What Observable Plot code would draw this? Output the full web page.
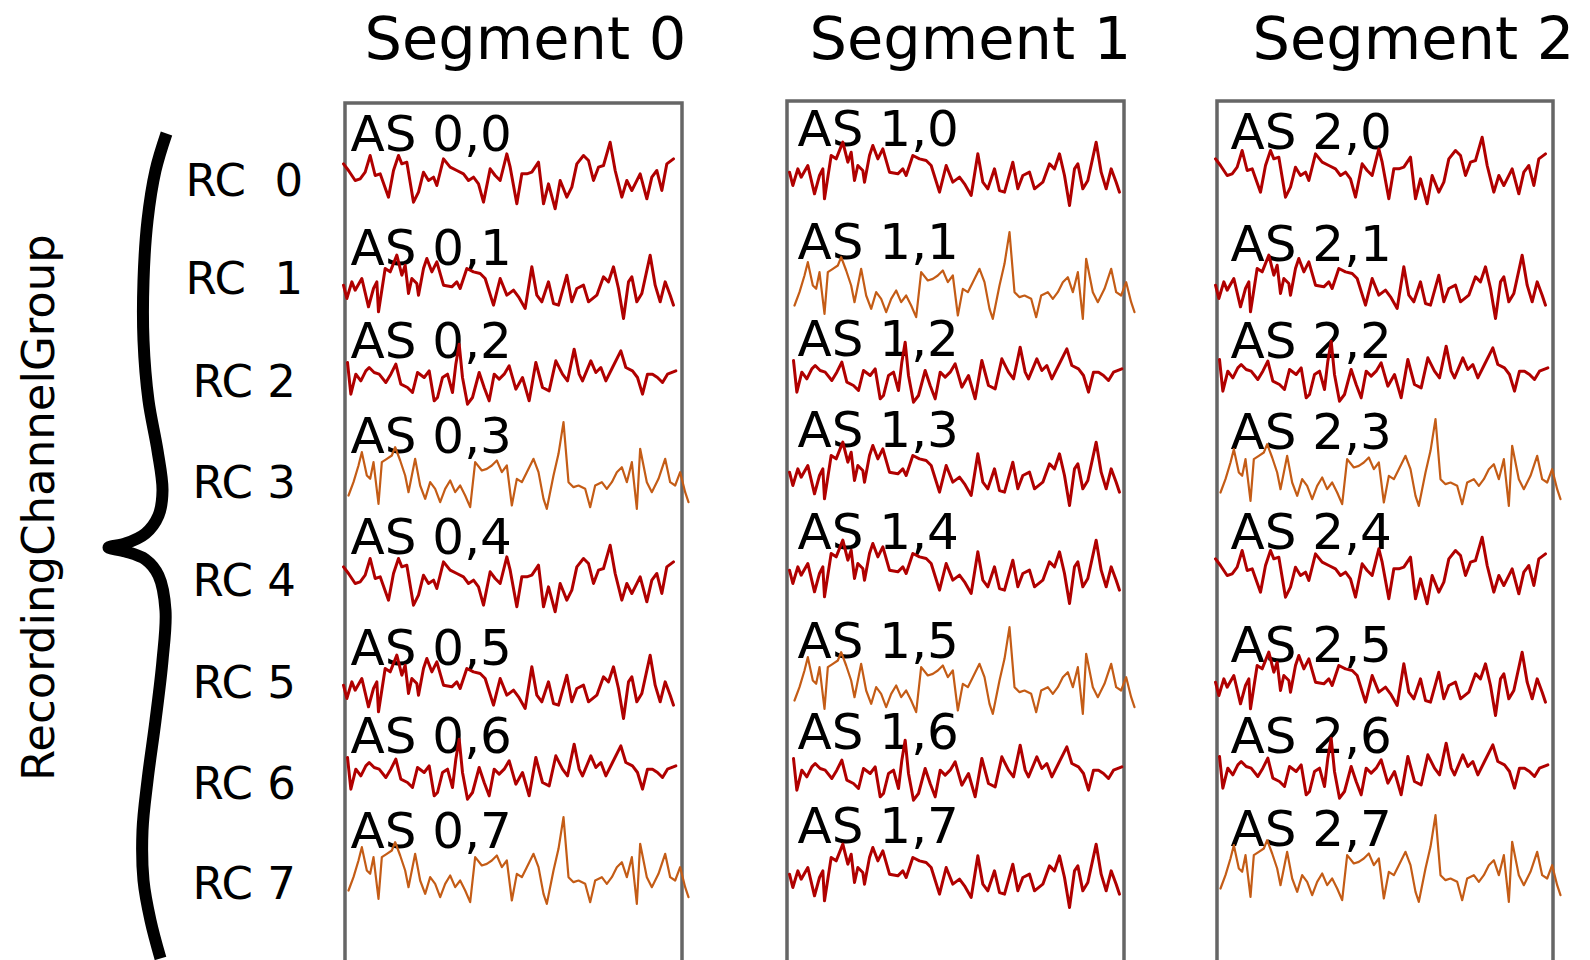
<!DOCTYPE html>
<html>
<head>
<meta charset="utf-8">
<script src="https://cdn.jsdelivr.net/npm/d3@7"></script>
<script src="https://cdn.jsdelivr.net/npm/@observablehq/plot@0.6"></script>
<style>
  html, body { margin: 0; padding: 0; background: #fff; }
  #chart svg text { white-space: pre; }
</style>
</head>
<body>
<div id="chart"></div>
<script>
// ---------------- data ----------------
const segments = ["Segment 0", "Segment 1", "Segment 2"];
const channels = ["RC  0", "RC  1", "RC 2", "RC 3", "RC 4", "RC 5", "RC 6", "RC 7"];
const groupLabel = "RecordingChannelGroup";

// four distinct analog-signal waveforms (time in samples, amplitude in arbitrary units)
const tA = [0,3,7,10,13,16,19,22,27,30,33,35,38,42,45,48,51,54,56,60,64,68,72,75,78,81,84,88,91,94,98,100,104,107,110,113,117,120,123,127,130,134,137,140,144,147,150,153,156,160,163,167,170,173,175,178,182,185,188,191,194,198];
const vA = [5,3,0,0.5,2.5,7.5,1.5,2,-5,3,7.5,5,5.5,-6.5,-3.5,2.5,0,1,-1.5,6.5,4,3,2,0,1,-1,-6.5,3.5,1.5,0,8,4,-7,2,2,2.5,5.5,-7,-1,-8.5,0,-5,-2,5,7.5,6,0,4,4.5,11.5,3,-5,0,-3,-1,2,-5.5,1,3,-3,5,6.5];

const tB = [0,2,5,7,11,15,18,20,21,25,28,32,35,37,39,41,44,45,48,50,53,56,60,65,68,70,74,78,82,85,90,94,98,102,105,109,113,116,119,123,126,129,134,137,140,144,147,152,156,159,162,165,168,171,173,176,179,184,187,190,193,196,198];
const vB = [1,-3,2,-0.5,3,-5.5,0,2,-7,6,5,10,4,7,-1.5,3,1.5,-2,6,9,5,8,1,0.5,2,0,6,5,4.5,3,-5,3,-2,-0.5,-2.5,-6,6.5,-2,-4,2,-4.5,-5,4,-4,0,1,-4,-2,3.5,2,6.5,0,-9,2,3.5,-4,-1.5,10,1,-4,2,-2,-5];

const tC = [0,2,5,8,11,13,16,19,23,26,29,32,36,39,42,46,49,52,54,57,60,63,65,67,69,72,75,79,82,85,88,91,94,97,101,105,109,113,117,121,125,129,132,136,139,141,146,149,152,155,159,164,167,171,174,177,180,183,186,189,192,197];
const vC = [4.5,-5,1,-1,2,3,1.5,1,-1.5,1,4,-2,-3,-4.5,1.5,0,2,-7,-6,0,1,-4.5,4,10,0,-8,-6,1.5,-3,-7,1,-0.5,1,3.5,-3.5,0,-7,4.5,-3,-4,5,1,-1,8.5,1,-1,5,1.5,3,-1,3,8,3,2,0,-5,1,1,0,-1.5,1,2];

const tD = [0,3,6,8,11,13,15,18,20,23,26,28,31,34,36,40,43,46,49,52,55,58,61,64,67,70,73,76,80,83,86,89,92,95,98,101,104,107,111,114,117,119,123,126,129,132,135,138,142,145,148,152,155,158,161,164,167,170,173,175,179,182,186,190,193,196,199,202,204];
const vD = [-3,1,6,10,3,2,7,-5.5,7,8,9,11.5,7.5,3,-2,8,0,-4,1,-1,-5,-1,1.5,-2,0,-3,-6.5,7,4.5,5,6,7.5,4,6,-6,2,1,4,8,4,-4,-7,3,9.5,19,1,-0.5,0,-1,-6.5,0,1,-1,1,4,5.5,1,7,-7,11,1,-2,2,8,1,0,4,-2,-5];

// which waveform each AnalogSignal (segment, channel) shows
const cellWave = [
  ["A","B","C","D","A","B","C","D"],
  ["B","D","C","B","B","D","C","B"],
  ["A","B","C","D","A","B","C","D"]
];

// ---------------- layout / style ----------------
const W = 1590, H = 960;
const waves = {A: [tA, vA], B: [tB, vB], C: [tC, vC], D: [tD, vD]};
const waveColor = {A: "#b00000", B: "#b00000", C: "#b00000", D: "#c45c16"};
const waveXShift = {A: 0, B: 0, C: 4, D: 5};
const pxPerT = 5 / 3, pxPerV = 10 / 3;
const titleX = [525, 970, 1413], titleY = 58;
const boxX = [[345, 682], [787, 1124], [1217, 1553]], boxTop = [103, 101, 101], boxBottom = 980;
const traceX0 = [343, 789, 1215];
const traceBase = [
  [180, 288, 377, 485, 583, 688, 772, 880],
  [175, 295, 375, 475, 573, 690, 773, 877],
  [175, 288, 374, 482, 575, 685, 771, 878]
];
const labelX = [350, 797, 1230];
const labelBase = [
  [150, 264, 357, 452, 553, 664, 752, 847],
  [145, 258, 355, 446, 548, 657, 748, 842],
  [148, 260, 357, 448, 548, 661, 752, 845]
];
const rcX = [185, 185, 192, 192, 192, 192, 192, 192];
const rcBase = [195, 293, 396, 497, 595, 697, 798, 898];
const groupPos = {x: 53, y: 507};
const braceOutline = [
  [166,133],[155,170],[147,220],[143,280],[143,340],[148,400],[157,450],[162,490],[158,515],
  [145,533],[125,543],[108,547],[125,551],[145,559],[158,575],[165,610],[162,660],[155,720],
  [147,780],[142,830],[143,880],[150,920],[160,958]
].map(([x, y]) => ({x, y}));

// ---------------- build tables ----------------
const boxes = segments.map((s, i) => ({x1: boxX[i][0], x2: boxX[i][1], y1: boxTop[i], y2: boxBottom}));
const traces = [];
const cellLabels = [];
segments.forEach((seg, s) => {
  channels.forEach((ch, r) => {
    const key = cellWave[s][r];
    const [t, v] = waves[key];
    t.forEach((ti, i) => traces.push({
      cell: `${s},${r}`, wave: key,
      x: traceX0[s] + waveXShift[key] + ti * pxPerT,
      y: traceBase[s][r] - v[i] * pxPerV
    }));
    cellLabels.push({text: `AS ${s},${r}`, x: labelX[s], y: labelBase[s][r]});
  });
});
const red = traces.filter(d => d.wave !== "D");
const orange = traces.filter(d => d.wave === "D");

const font = "DejaVu Sans";
const chart = Plot.plot({
  width: W, height: H,
  marginTop: 0, marginRight: 0, marginBottom: 0, marginLeft: 0,
  x: {domain: [0, W], range: [0, W], axis: null},
  y: {domain: [0, H], range: [0, H], axis: null},
  style: {fontFamily: font, background: "#fff", overflow: "hidden"},
  marks: [
    Plot.rect(boxes, {x1: "x1", x2: "x2", y1: "y1", y2: "y2", fill: "none", stroke: "#666", strokeWidth: 3.5}),
    Plot.text(segments, {x: (d, i) => titleX[i], y: () => titleY, text: d => d, fontSize: 59, textAnchor: "middle", lineAnchor: "bottom", fill: "#000", fontFamily: font}),
    Plot.text(channels, {x: (d, i) => rcX[i], y: (d, i) => rcBase[i], text: d => d, fontSize: 45, textAnchor: "start", lineAnchor: "bottom", fill: "#000", fontFamily: font}),
    Plot.text([groupLabel], {x: () => groupPos.x, y: () => groupPos.y, text: d => d, rotate: -90, fontSize: 45, textAnchor: "middle", lineAnchor: "bottom", fill: "#000", fontFamily: font}),
    Plot.line(braceOutline, {x: "x", y: "y", curve: "catmull-rom", stroke: "#000", strokeWidth: 12, strokeLinecap: "butt", strokeLinejoin: "round"}),
    Plot.text(cellLabels, {x: "x", y: "y", text: "text", fontSize: 50, textAnchor: "start", lineAnchor: "bottom", fill: "#000", fontFamily: font}),
    Plot.line(red, {x: "x", y: "y", z: "cell", stroke: waveColor.A, strokeWidth: 3, strokeLinejoin: "round"}),
    Plot.line(orange, {x: "x", y: "y", z: "cell", stroke: waveColor.D, strokeWidth: 2.2, strokeLinejoin: "round"})
  ]
});
document.getElementById("chart").appendChild(chart);
</script>
</body>
</html>
